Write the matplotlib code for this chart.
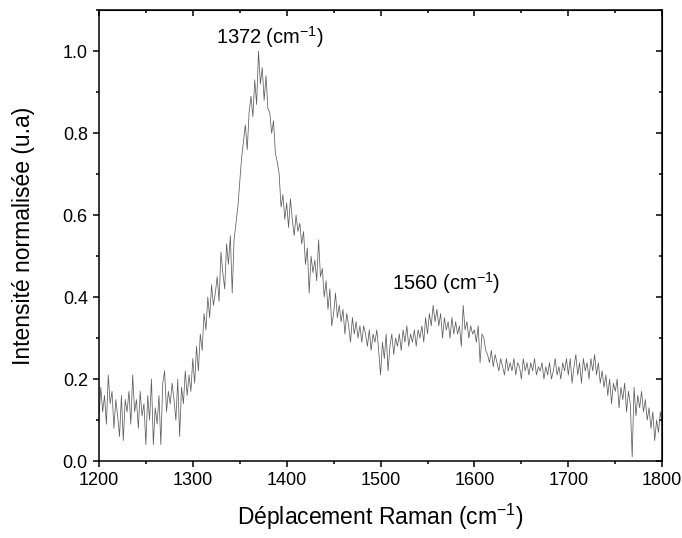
import numpy as np
import matplotlib
matplotlib.use('Agg')
import matplotlib.pyplot as plt
from matplotlib.ticker import MultipleLocator

# Raman shift (cm-1), one point every 2 cm-1
shift_start = 1200
shift_step = 2

# normalised intensity, 1200 -> 1800
intensity = [
    0.10, 0.18, 0.12, 0.16, 0.09, 0.21, 0.14, 0.17, 0.08, 0.15,
    0.11, 0.06, 0.16, 0.05, 0.15, 0.12, 0.17, 0.09, 0.21, 0.12,
    0.15, 0.08, 0.17, 0.11, 0.14, 0.04, 0.16, 0.10, 0.20, 0.04,
    0.13, 0.09, 0.16, 0.04, 0.19, 0.22, 0.12, 0.17, 0.14, 0.19,
    0.15, 0.10, 0.20, 0.06, 0.18, 0.14, 0.22, 0.16, 0.21, 0.17,
    0.25, 0.19, 0.28, 0.22, 0.31, 0.27, 0.36, 0.32, 0.40, 0.35,
    0.43, 0.38, 0.41, 0.45, 0.39, 0.51, 0.46, 0.42, 0.53, 0.48,
    0.55, 0.41, 0.54, 0.58, 0.62, 0.68, 0.74, 0.78, 0.82, 0.76,
    0.85, 0.89, 0.84, 0.93, 0.87, 1.00, 0.92, 0.96, 0.88, 0.94,
    0.86, 0.85, 0.80, 0.83, 0.75, 0.73, 0.70, 0.62, 0.65, 0.59,
    0.63, 0.57, 0.64, 0.59, 0.55, 0.60, 0.56, 0.58, 0.53, 0.56,
    0.48, 0.52, 0.41, 0.50, 0.46, 0.49, 0.44, 0.54, 0.45, 0.47,
    0.40, 0.44, 0.37, 0.42, 0.33, 0.36, 0.41, 0.35, 0.38, 0.34,
    0.37, 0.31, 0.36, 0.33, 0.29, 0.35, 0.31, 0.34, 0.30, 0.33,
    0.29, 0.33, 0.31, 0.28, 0.32, 0.27, 0.31, 0.29, 0.32, 0.27,
    0.21, 0.29, 0.25, 0.31, 0.22, 0.28, 0.31, 0.26, 0.30, 0.28,
    0.31, 0.27, 0.32, 0.29, 0.33, 0.28, 0.31, 0.29, 0.32, 0.28,
    0.32, 0.30, 0.33, 0.29, 0.35, 0.31, 0.36, 0.33, 0.38, 0.34,
    0.37, 0.33, 0.36, 0.30, 0.35, 0.32, 0.34, 0.30, 0.35, 0.31,
    0.34, 0.31, 0.33, 0.28, 0.38, 0.32, 0.34, 0.30, 0.33, 0.31,
    0.32, 0.29, 0.33, 0.24, 0.31, 0.30, 0.27, 0.26, 0.24, 0.27,
    0.23, 0.26, 0.24, 0.22, 0.25, 0.23, 0.21, 0.25, 0.22, 0.24,
    0.22, 0.25, 0.21, 0.24, 0.23, 0.20, 0.25, 0.22, 0.24, 0.21,
    0.24, 0.22, 0.25, 0.21, 0.23, 0.22, 0.24, 0.20, 0.23, 0.21,
    0.24, 0.20, 0.22, 0.25, 0.21, 0.23, 0.20, 0.24, 0.22, 0.25,
    0.21, 0.25, 0.19, 0.23, 0.26, 0.21, 0.24, 0.19, 0.25, 0.22,
    0.24, 0.20, 0.25, 0.22, 0.26, 0.21, 0.24, 0.19, 0.22, 0.18,
    0.21, 0.16, 0.20, 0.14, 0.19, 0.17, 0.20, 0.13, 0.18, 0.15,
    0.19, 0.12, 0.17, 0.14, 0.01, 0.18, 0.11, 0.16, 0.13, 0.17,
    0.12, 0.15, 0.10, 0.13, 0.08, 0.12, 0.05, 0.10, 0.07, 0.12,
    0.09,
]
shift = shift_start + shift_step * np.arange(len(intensity))

# peak labels
peak_pos = [1382, 1570]
peak_y = [1.035, 0.435]
peak_labels = ['1372 (cm$^{-1}$)', '1560 (cm$^{-1}$)']

plt.rcParams['font.family'] = ['Liberation Sans', 'DejaVu Sans']
plt.rcParams['mathtext.fontset'] = 'custom'
plt.rcParams['mathtext.rm'] = 'Liberation Sans'
plt.rcParams['mathtext.it'] = 'Liberation Sans:italic'
plt.rcParams['mathtext.bf'] = 'Liberation Sans:bold'

fig = plt.figure(figsize=(6.82, 5.38), dpi=100)
ax = fig.add_axes([0.145, 0.143, 0.826, 0.838])

ax.plot(shift, intensity, color='#5e5e5e', lw=0.55)

for px, py, lab in zip(peak_pos, peak_y, peak_labels):
    ax.text(px, py, lab, ha='center', va='center', fontsize=14.5)

ax.set_xlim(1200, 1800)
ax.set_ylim(0, 1.1)
ax.xaxis.set_major_locator(MultipleLocator(100))
ax.xaxis.set_minor_locator(MultipleLocator(50))
ax.yaxis.set_major_locator(MultipleLocator(0.2))
ax.yaxis.set_minor_locator(MultipleLocator(0.1))
ax.yaxis.set_major_formatter(matplotlib.ticker.FormatStrFormatter('%.1f'))

ax.tick_params(which='both', direction='out', width=1.1, labelsize=13)
ax.tick_params(which='major', length=4.5)
ax.tick_params(which='minor', length=2.5)
for s in ax.spines.values():
    s.set_linewidth(1.1)

# mirrored ticks pointing inward on top and right
top = ax.secondary_xaxis('top')
top.xaxis.set_major_locator(MultipleLocator(100))
top.xaxis.set_minor_locator(MultipleLocator(50))
top.tick_params(which='both', direction='in', width=1.1, labeltop=False)
top.tick_params(which='major', length=4.5)
top.tick_params(which='minor', length=2.5)
right = ax.secondary_yaxis('right')
right.yaxis.set_major_locator(MultipleLocator(0.2))
right.yaxis.set_minor_locator(MultipleLocator(0.1))
right.tick_params(which='both', direction='in', width=1.1, labelright=False)
right.tick_params(which='major', length=4.5)
right.tick_params(which='minor', length=2.5)

ax.set_xlabel('Déplacement Raman (cm$^{-1}$)', fontsize=16.5, labelpad=9)
ax.set_ylabel('Intensité normalisée (u.a)', fontsize=16.5, labelpad=20)

fig.savefig('out.png', dpi=100)
